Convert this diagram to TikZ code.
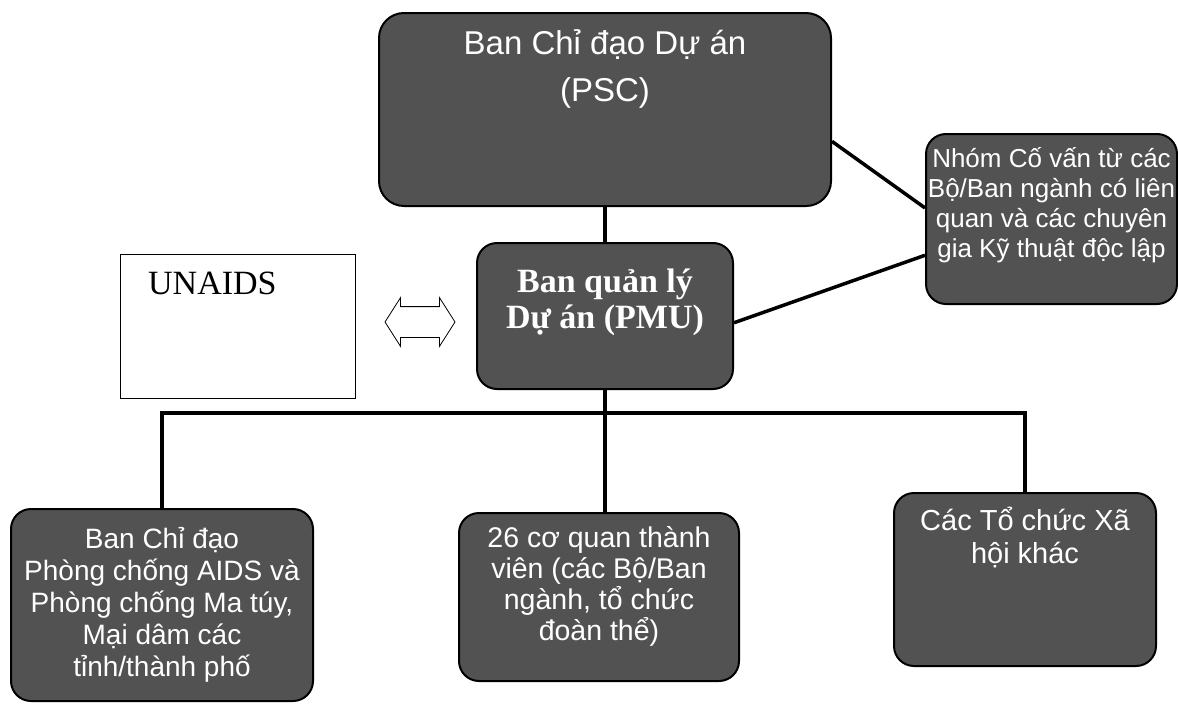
\documentclass[tikz,border=0pt]{standalone}
\usepackage{fontspec}
\setmainfont{Liberation Serif}
\newfontfamily\arialfont{Liberation Sans}
\usetikzlibrary{calc,shapes.arrows}
\tikzset{
  darkbox/.style={draw=black, line width=2pt, fill=black!68, rounded corners=20pt, anchor=north west, inner sep=0pt},
  boxtext/.style={text=white, align=center, inner sep=0pt},
  conn/.style={line width=3.5pt},
}
\begin{document}
\begin{tikzpicture}[x=1pt,y=-1pt]
		\useasboundingbox (0,0) rectangle (1178,704);
		% boxes
		\node[darkbox, rounded corners=25pt, minimum width=452pt, minimum height=193pt] (psc) at (378,12) {};
		\node[darkbox, minimum width=251pt, minimum height=170pt] (adv) at (925,133) {};
		\node[darkbox, minimum width=256pt, minimum height=146pt] (pmu) at (476,242) {};
		\node[draw=black, thin, anchor=north west, minimum width=235pt, minimum height=144pt] (unaids) at (120,254) {};
		\node[darkbox, minimum width=302pt, minimum height=192pt] (left) at (10,508) {};
		\node[darkbox, minimum width=280pt, minimum height=168pt] (mid) at (458,512) {};
		\node[darkbox, minimum width=262pt, minimum height=173pt] (right) at (893,492) {};
		% texts
		\node[boxtext, font=\arialfont\fontsize{33}{47}\selectfont] (psctext) at ($(psc.north)+(0,57)$) {Ban Chỉ đạo Dự án\\(PSC)};
		\node[boxtext, font=\arialfont\fontsize{26}{30}\selectfont] (advtext) at ($(adv.north)+(0,72)$) {Nhóm Cố vấn từ các\\Bộ/Ban ngành có liên\\quan và các chuyên\\gia Kỹ thuật độc lập};
		\node[boxtext, font=\bfseries\fontsize{34}{36}\selectfont] (pmutext) at ($(pmu.north)+(0,60)$) {Ban quản lý\\Dự án (PMU)};
		\node[anchor=west, inner sep=0pt, font=\fontsize{34}{40}\selectfont] (unaidstext) at ($(unaids.north west)+(28,29)$) {UNAIDS};
		\node[boxtext, font=\arialfont\fontsize{28}{32}\selectfont] (lefttext) at (left.center) {Ban Chỉ đạo\\Phòng chống AIDS và\\Phòng chống Ma túy,\\Mại dâm các\\tỉnh/thành phố};
		\node[boxtext, font=\arialfont\fontsize{28.5}{31}\selectfont] (midtext) at ($(mid.north)+(0,74)$) {26 cơ quan thành\\viên (các Bộ/Ban\\ngành, tổ chức\\đoàn thể)};
		\node[boxtext, font=\arialfont\fontsize{29}{33}\selectfont] (righttext) at ($(right.north)+(0,45)$) {Các Tổ chức Xã\\hội khác};
		% links
		\node[draw, thick, double arrow, double arrow head extend=9pt, double arrow tip angle=115, minimum height=70pt, inner xsep=0pt, inner ysep=15pt] (link) at (420,322) {};
		\draw[conn] (psc.south) -- (pmu.north);
		\draw[conn] (psc.-8) -- (adv.175);
		\draw[conn] (pmu.-3) -- (adv.196);
		\coordinate (bar) at (0,413);
		\draw[conn] (pmu.south) -- (pmu.south |- mid.north);
		\draw[conn] (left.north) -- (left.north |- bar) -- (right.north |- bar) -- (right.north);
\end{tikzpicture}
\end{document}
